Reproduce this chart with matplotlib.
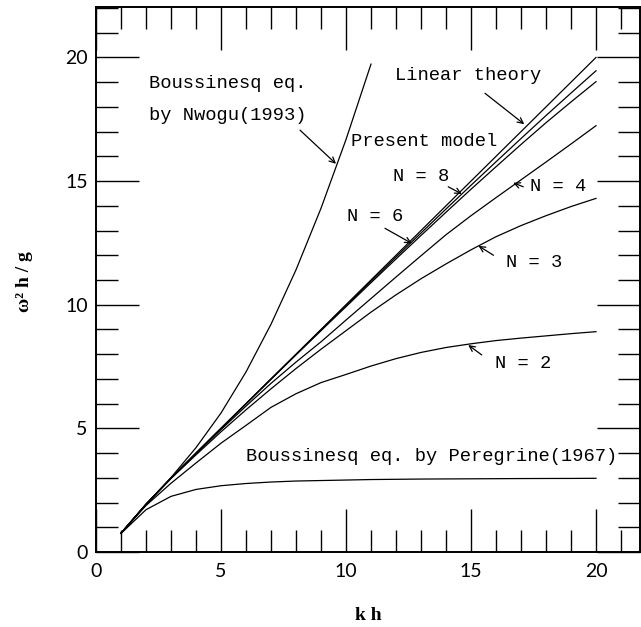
import numpy as np
import matplotlib.pyplot as plt
from matplotlib.ticker import MultipleLocator

# values
kh = [1, 2, 3, 4, 5, 6, 7, 8, 9, 10, 11, 12, 13, 14, 15, 16, 17, 18, 19, 20]
linear = [0.76, 1.93, 2.99, 4.0, 5.0, 6.0, 7.0, 8.0, 9.0, 10.0,
          11.0, 12.0, 13.0, 14.0, 15.0, 16.0, 17.0, 18.0, 19.0, 20.0]
peregrine = [0.75, 1.71, 2.25, 2.53, 2.68, 2.77, 2.83, 2.87, 2.89, 2.91,
             2.93, 2.94, 2.95, 2.955, 2.96, 2.965, 2.97, 2.973, 2.975, 2.98]
n8 = [0.76, 1.93, 2.99, 4.0, 5.0, 6.0, 7.0, 7.99, 8.98, 9.97,
      10.95, 11.93, 12.9, 13.87, 14.83, 15.78, 16.72, 17.65, 18.56, 19.46]
n6 = [0.76, 1.93, 2.99, 4.0, 5.0, 5.99, 6.98, 7.97, 8.95, 9.92,
      10.89, 11.85, 12.8, 13.74, 14.67, 15.58, 16.48, 17.36, 18.2, 19.02]
n4 = [0.76, 1.93, 2.98, 3.97, 4.95, 5.9, 6.82, 7.68, 8.5, 9.38,
      10.25, 11.12, 11.98, 12.83, 13.6, 14.33, 15.05, 15.77, 16.5, 17.24]
n3 = [0.76, 1.93, 2.97, 3.93, 4.86, 5.75, 6.6, 7.42, 8.2, 8.95,
      9.7, 10.4, 11.05, 11.65, 12.22, 12.75, 13.2, 13.6, 13.97, 14.3]
n2 = [0.76, 1.88, 2.78, 3.6, 4.4, 5.12, 5.85, 6.4, 6.85, 7.18,
      7.52, 7.82, 8.07, 8.27, 8.42, 8.55, 8.65, 8.74, 8.83, 8.91]
nwogu_kh = [1, 2, 3, 4, 5, 6, 7, 8, 9, 10, 11]
nwogu = [0.76, 1.92, 3.01, 4.22, 5.62, 7.28, 9.21, 11.41, 13.9, 16.68, 19.73]

fig = plt.figure(figsize=(6.41, 6.27), dpi=100)
ax = fig.add_axes([96 / 641, 75 / 627, 544 / 641, 545 / 627])

lw = 0.9
for y in [linear, peregrine, n8, n6, n4, n3, n2]:
    ax.plot(kh, y, color='black', lw=lw)
ax.plot(nwogu_kh, nwogu, color='black', lw=lw)

ax.set_xlim(0, 21.76)
ax.set_ylim(0, 22.04)

ax.xaxis.set_major_locator(MultipleLocator(5))
ax.xaxis.set_minor_locator(MultipleLocator(1))
ax.yaxis.set_major_locator(MultipleLocator(5))
ax.yaxis.set_minor_locator(MultipleLocator(1))
ax.tick_params(which='both', direction='in', top=True, right=True, width=1.0)
ax.tick_params(which='major', length=31)
ax.tick_params(which='minor', length=16)
ax.tick_params(axis='x', pad=8)
ax.tick_params(axis='y', pad=6)
for lab in ax.get_xticklabels() + ax.get_yticklabels():
    lab.set_fontfamily('Lato')
    lab.set_fontsize(14)
    lab.set_color('black')
for s in ax.spines.values():
    s.set_linewidth(1.4)

fig.text(0.574, 1 - 615 / 627, 'k h', ha='center', va='center',
         fontfamily='Liberation Serif', fontweight='bold', fontsize=14)
fig.text(0.039, 1 - 282 / 627, 'ω² h / g', ha='center', va='center', rotation=90,
         fontfamily='Liberation Serif', fontweight='bold', fontsize=14)

tf = dict(fontfamily='Liberation Mono', fontsize=13.5, va='center', ha='left')
ap = dict(arrowstyle='->', lw=0.9, color='black', shrinkA=0, shrinkB=0,
          mutation_scale=10)

ax.text(2.13, 18.96, 'Boussinesq eq.', **tf)
ax.text(2.13, 17.67, 'by Nwogu(1993)', **tf)
ax.annotate('', xy=(9.6, 15.7), xytext=(8.16, 17.06), arrowprops=ap)

ax.text(11.96, 19.29, 'Linear theory', **tf)
ax.annotate('', xy=(17.13, 17.3), xytext=(15.56, 18.55), arrowprops=ap)

ax.text(10.19, 16.59, 'Present model', **tf)
ax.text(11.88, 15.18, 'N = 8', **tf)
ax.annotate('', xy=(14.63, 14.48), xytext=(14.09, 14.77), arrowprops=ap)
ax.text(10.03, 13.56, 'N = 6', **tf)
ax.annotate('', xy=(12.63, 12.48), xytext=(11.56, 13.09), arrowprops=ap)
ax.text(17.36, 14.77, 'N = 4', **tf)
ax.annotate('', xy=(16.69, 14.93), xytext=(17.09, 14.77), arrowprops=ap)
ax.text(16.4, 11.7, 'N = 3', **tf)
ax.annotate('', xy=(15.3, 12.38), xytext=(15.9, 12.0), arrowprops=ap)
ax.text(15.96, 7.63, 'N = 2', **tf)
ax.annotate('', xy=(14.89, 8.37), xytext=(15.43, 7.97), arrowprops=ap)

ax.text(6.0, 3.85, 'Boussinesq eq. by Peregrine(1967)', **tf)

fig.savefig('out.png', dpi=100)
